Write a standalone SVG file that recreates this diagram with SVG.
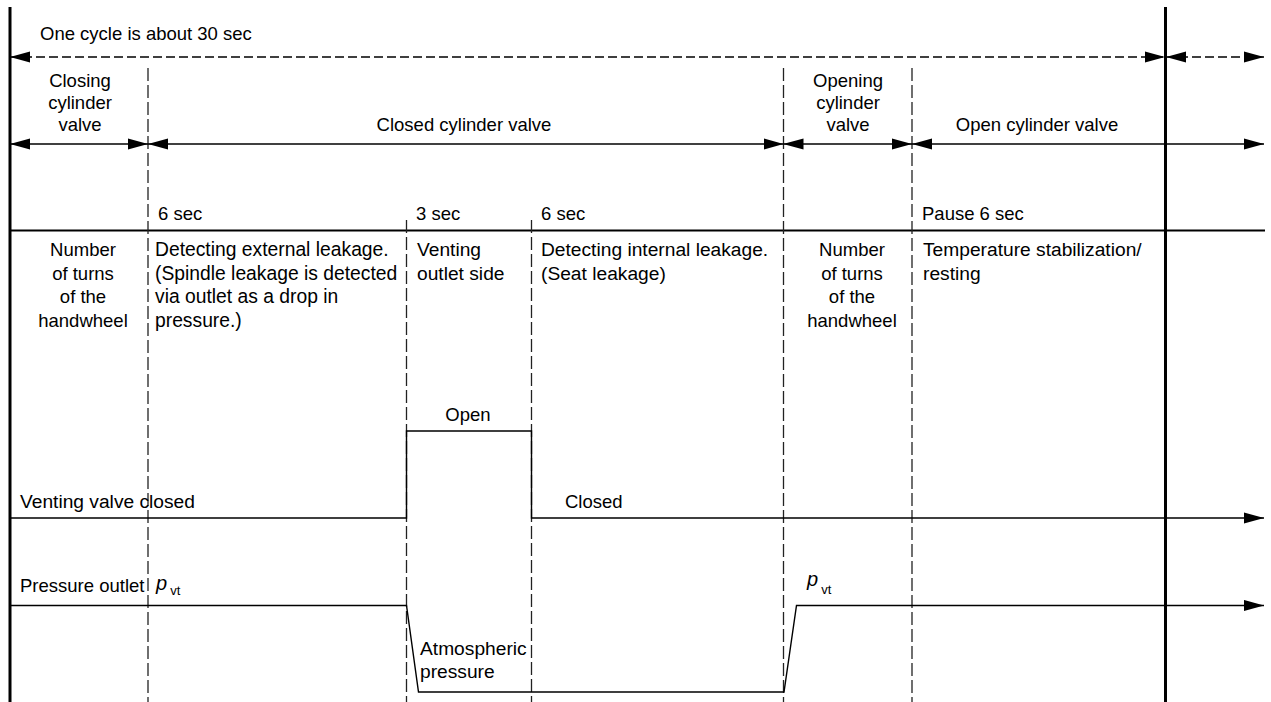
<svg xmlns="http://www.w3.org/2000/svg" width="1271" height="702" viewBox="0 0 1271 702">
<defs>
<marker id="ah" markerUnits="userSpaceOnUse" markerWidth="20" markerHeight="12" viewBox="0 0 18 10" refX="18" refY="5" orient="auto-start-reverse">
<path d="M0,0 L18,5 L0,10 z" fill="#000"/>
</marker>
<style>
text{font-family:"Liberation Sans",Arial,sans-serif;font-size:18.5px;fill:#000}
.c{text-anchor:middle}
.m{font-size:19.2px}
.l{font-size:19.3px}
.it{font-style:italic;font-size:20px}
.sub{font-size:13px}
.thick{stroke:#000;stroke-width:3;fill:none}
.dim{stroke:#000;stroke-width:1.3;fill:none;marker-start:url(#ah);marker-end:url(#ah)}
.dimd{stroke:#000;stroke-width:1.3;fill:none;stroke-dasharray:9,4;marker-start:url(#ah);marker-end:url(#ah)}
.vd{stroke:#222;stroke-width:1.3;fill:none;stroke-dasharray:13,4}
.sig{stroke:#000;stroke-width:1.4;fill:none}
</style>
</defs>
<g id="frame">
<line class="thick" x1="10" y1="7" x2="10" y2="702"/>
<line class="thick" x1="1165.5" y1="7" x2="1165.5" y2="702"/>
<line x1="10" y1="230.5" x2="1265" y2="230.5" stroke="#000" stroke-width="2.2"/>
<line class="vd" x1="148" y1="68" x2="148" y2="702"/>
<line class="vd" x1="783.5" y1="68" x2="783.5" y2="702"/>
<line class="vd" x1="912" y1="68" x2="912" y2="702"/>
<line class="vd" x1="406.5" y1="220" x2="406.5" y2="702"/>
<line class="vd" x1="531.5" y1="220" x2="531.5" y2="702"/>
</g>
<g id="connectors">
<line class="dimd" x1="10" y1="57" x2="1165" y2="57"/>
<line class="dimd" x1="1166" y1="57" x2="1264" y2="57"/>
<line class="dim" x1="10" y1="144" x2="148" y2="144"/>
<line class="dim" x1="148" y1="144" x2="783.5" y2="144"/>
<line class="dim" x1="783.5" y1="144" x2="912" y2="144"/>
<line class="dim" x1="912" y1="144" x2="1264" y2="144"/>
<polyline class="sig" points="10,518 406.5,518 406.5,431 531.5,431 531.5,518 1264,518" marker-end="url(#ah)"/>
<polyline class="sig" points="10,605.5 406.5,605.5 418.5,692 784,692 796.5,605.5 1264,605.5" marker-end="url(#ah)"/>
</g>
<g id="cycle-label"><text x="40" y="40">One cycle is about 30 sec</text></g>
<g id="phase-closing">
<text class="c" x="80" y="87">Closing</text>
<text class="c" x="80" y="109">cylinder</text>
<text class="c" x="80" y="131">valve</text>
</g>
<g id="phase-closed"><text class="c" x="464" y="131">Closed cylinder valve</text></g>
<g id="phase-opening">
<text class="c" x="848" y="87">Opening</text>
<text class="c" x="848" y="109">cylinder</text>
<text class="c" x="848" y="131">valve</text>
</g>
<g id="phase-open"><text class="c" x="1037" y="131">Open cylinder valve</text></g>
<g id="durations">
<text x="158" y="220">6 sec</text>
<text x="416" y="220">3 sec</text>
<text x="541" y="220">6 sec</text>
<text x="922" y="220">Pause 6 sec</text>
</g>
<g id="step-turns-1">
<text class="c" x="83" y="256">Number</text>
<text class="c" x="83" y="280">of turns</text>
<text class="c" x="83" y="303">of the</text>
<text class="c" x="83" y="327">handwheel</text>
</g>
<g id="step-external">
<text class="l" x="155" y="256">Detecting external leakage.</text>
<text class="l" x="155" y="280">(Spindle leakage is detected</text>
<text class="l" x="155" y="303">via outlet as a drop in</text>
<text class="l" x="155" y="327">pressure.)</text>
</g>
<g id="step-venting">
<text class="m" x="417" y="256">Venting</text>
<text class="m" x="417" y="280">outlet side</text>
</g>
<g id="step-internal">
<text class="m" x="541" y="256">Detecting internal leakage.</text>
<text class="m" x="541" y="280">(Seat leakage)</text>
</g>
<g id="step-turns-2">
<text class="c" x="852" y="256">Number</text>
<text class="c" x="852" y="280">of turns</text>
<text class="c" x="852" y="303">of the</text>
<text class="c" x="852" y="327">handwheel</text>
</g>
<g id="step-pause">
<text class="m" x="923" y="256">Temperature stabilization/</text>
<text class="m" x="923" y="280">resting</text>
</g>
<g id="venting-signal-labels">
<text class="m" x="20" y="508">Venting valve closed</text>
<text class="c" x="468" y="421">Open</text>
<text x="565" y="508">Closed</text>
</g>
<g id="pressure-signal-labels">
<text x="20" y="592">Pressure outlet</text>
<text x="156" y="590"><tspan class="it">p</tspan><tspan class="sub" dx="3" dy="5">vt</tspan></text>
<text class="m" x="420" y="655">Atmospheric</text>
<text class="m" x="420" y="678">pressure</text>
<text x="807" y="586"><tspan class="it">p</tspan><tspan class="sub" dx="3" dy="8">vt</tspan></text>
</g>
</svg>
